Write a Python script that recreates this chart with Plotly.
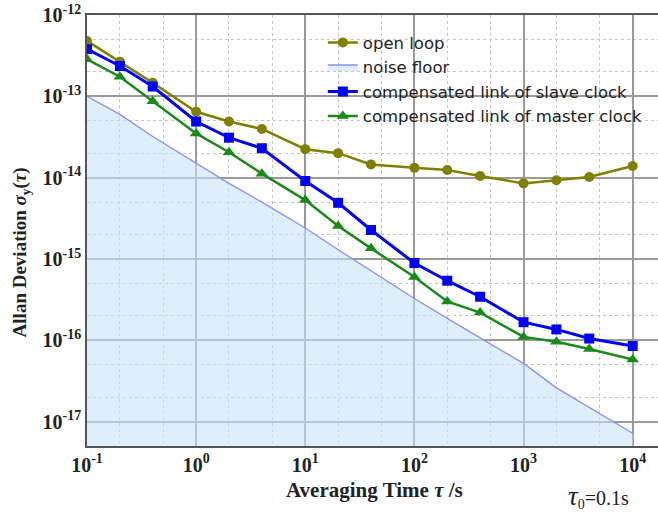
import plotly.graph_objects as go

tau = [0.1, 0.2, 0.4, 1, 2, 4, 10, 20, 40, 100, 200, 400, 1000, 2000, 4000, 10000]
open_loop = [4.8e-13, 2.67e-13, 1.47e-13, 6.45e-14, 4.9e-14, 3.97e-14, 2.24e-14, 2.0e-14,
             1.45e-14, 1.32e-14, 1.24e-14, 1.05e-14, 8.5e-15, 9.3e-15, 1.02e-14, 1.39e-14]
noise_floor = [1.0e-13, 6.0e-14, 3.2e-14, 1.5e-14, 8.5e-15, 5.0e-15, 2.4e-15, 1.3e-15,
               7.2e-16, 3.27e-16, 1.86e-16, 1.07e-16, 5.2e-17, 2.6e-17, 1.5e-17, 7.2e-18]
slave = [3.8e-13, 2.36e-13, 1.32e-13, 4.9e-14, 3.1e-14, 2.3e-14, 9.1e-15, 4.9e-15,
         2.27e-15, 8.9e-16, 5.4e-16, 3.43e-16, 1.67e-16, 1.36e-16, 1.05e-16, 8.5e-17]
master = [2.85e-13, 1.74e-13, 8.7e-14, 3.5e-14, 2.05e-14, 1.12e-14, 5.3e-15, 2.54e-15,
          1.35e-15, 6.0e-16, 3.0e-16, 2.19e-16, 1.1e-16, 9.6e-17, 7.8e-17, 5.8e-17]

x_tickvals = [0.1, 1, 10, 100, 1000, 10000]
x_ticktext = ["<b>10<sup>-1</sup></b>", "<b>10<sup>0</sup></b>", "<b>10<sup>1</sup></b>",
              "<b>10<sup>2</sup></b>", "<b>10<sup>3</sup></b>", "<b>10<sup>4</sup></b>"]
y_tickvals = [1e-17, 1e-16, 1e-15, 1e-14, 1e-13, 1e-12]
y_ticktext = ["<b>10<sup>-17</sup></b>", "<b>10<sup>-16</sup></b>", "<b>10<sup>-15</sup></b>",
              "<b>10<sup>-14</sup></b>", "<b>10<sup>-13</sup></b>", "<b>10<sup>-12</sup></b>"]

serif = "Liberation Serif, Times New Roman, serif"
sans = "DejaVu Sans, Verdana, sans-serif"

fig = go.Figure()
fig.add_trace(go.Scatter(x=tau, y=open_loop, name="open loop", mode="lines+markers",
                         line=dict(color="#808000", width=2.5),
                         marker=dict(symbol="circle", size=10, color="#808000")))
fig.add_trace(go.Scatter(x=tau, y=noise_floor, name="noise floor", mode="lines",
                         line=dict(color="#8c8cff", width=1.3),
                         fill="tozeroy", fillcolor="rgba(200,228,250,0.6)"))
fig.add_trace(go.Scatter(x=tau, y=slave, name="compensated link of slave clock",
                         mode="lines+markers",
                         line=dict(color="#0000ff", width=3),
                         marker=dict(symbol="square", size=10, color="#0000ff")))
fig.add_trace(go.Scatter(x=tau, y=master, name="compensated link of master clock",
                         mode="lines+markers",
                         line=dict(color="#1a8a1a", width=2.5),
                         marker=dict(symbol="triangle-up", size=11, color="#1a8a1a")))

fig.update_xaxes(type="log", range=[-1, 4.232], automargin=False,
                 tickvals=x_tickvals, ticktext=x_ticktext,
                 tickfont=dict(family=serif, size=20, color="#222"),
                 showgrid=True, gridcolor="#9a9a9a", gridwidth=1.5,
                 minor=dict(showgrid=True, gridcolor="#c4c4c4", griddash="dot", gridwidth=1),
                 showline=True, linecolor="#555", linewidth=1.5, mirror=True,
                 ticks="", zeroline=False)
fig.update_yaxes(type="log", range=[-17.3, -12], automargin=False,
                 tickvals=y_tickvals, ticktext=y_ticktext,
                 tickfont=dict(family=serif, size=20, color="#222"),
                 showgrid=True, gridcolor="#9a9a9a", gridwidth=1.5,
                 minor=dict(showgrid=True, gridcolor="#c4c4c4", griddash="dot", gridwidth=1),
                 showline=True, linecolor="#555", linewidth=1.5, mirror=False,
                 ticks="", zeroline=False)

fig.add_annotation(text="<b>Averaging Time <i>τ</i> /s</b>", xref="paper", yref="paper",
                   x=0.503, y=-0.102, xanchor="center", yanchor="middle", showarrow=False,
                   font=dict(family=serif, size=21, color="#222"))
fig.add_annotation(text="<b>Allan Deviation <i>σ</i><sub>y</sub>(<i>τ</i>)</b>",
                   xref="paper", yref="paper", textangle=-90,
                   x=-0.114, y=0.449, xanchor="center", yanchor="middle", showarrow=False,
                   font=dict(family=serif, size=19, color="#222"))
fig.add_annotation(text="<span style='font-size:27px'><i>τ</i></span><sub>0</sub>=0.1s",
                   xref="paper", yref="paper",
                   x=0.895, y=-0.118, xanchor="center", yanchor="middle", showarrow=False,
                   font=dict(family=serif, size=20, color="#222"))

fig.update_layout(width=658, height=515,
                  margin=dict(l=87, r=0, t=15, b=69),
                  paper_bgcolor="white", plot_bgcolor="white",
                  legend=dict(x=0.413, y=0.976, xanchor="left", yanchor="top",
                              bgcolor="rgba(0,0,0,0)",
                              font=dict(family=sans, size=16.5, color="#222"),
                              tracegroupgap=0),
                  showlegend=True)

fig.write_html("out.html", config={"displayModeBar": False},
               post_script="document.body.style.margin='0';document.body.style.overflow='hidden';")
